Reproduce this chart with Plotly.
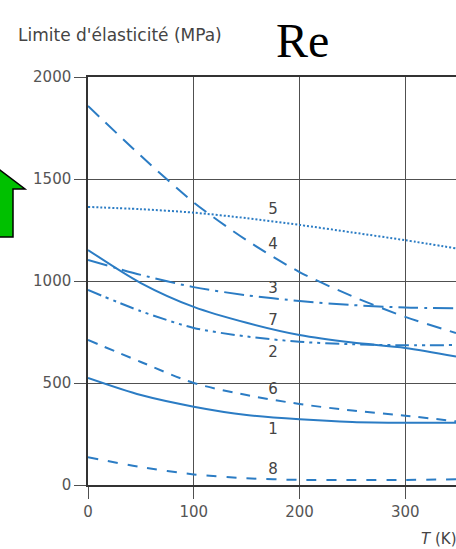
import plotly.graph_objects as go

# ---- data ----
T = [0, 50, 100, 150, 200, 250, 300, 348]
curve_1 = [525, 441, 384, 343, 322, 309, 305, 305]
curve_2 = [956, 852, 770, 728, 702, 690, 685, 686]
curve_3 = [1103, 1030, 970, 930, 902, 882, 870, 866]
curve_4 = [1858, 1614, 1385, 1200, 1044, 925, 824, 745]
curve_5 = [1363, 1352, 1335, 1308, 1275, 1238, 1200, 1160]
curve_6 = [711, 603, 500, 441, 397, 365, 340, 312]
curve_7 = [1152, 990, 873, 795, 735, 698, 672, 630]
curve_8 = [136, 88, 52, 33, 25, 24, 25, 28]

labels = ["5", "4", "3", "7", "2", "6", "1", "8"]
label_T = 175
label_y = [1348, 1173, 961, 805, 647, 466, 270, 70]

x_ticks = [0, 100, 200, 300]
y_ticks = [0, 500, 1000, 1500, 2000]

# ---- layout geometry ----
W, H = 456, 549
L, R, TOP, B = 88, 0, 77, 64
PW, PH = W - L - R, H - TOP - B


def px(xp):
    return (xp - L) / PW


def py(yp):
    return (H - B - yp) / PH


BLUE = "#2b7cc4"
GRID = "#505050"

series = [
    (curve_1, "solid"),
    (curve_2, "14px,5px,3px,5px,3px,5px"),
    (curve_3, "20px,6px,3px,6px"),
    (curve_4, "15px,9px"),
    (curve_5, "2px,2px"),
    (curve_6, "10px,8px"),
    (curve_7, "solid"),
    (curve_8, "10px,10px"),
]

fig = go.Figure()
for vals, dash in series:
    fig.add_trace(go.Scatter(
        x=T, y=vals, mode="lines",
        line=dict(color=BLUE, width=2, dash=dash, shape="spline", smoothing=0.8),
        showlegend=False, hoverinfo="skip",
    ))

fig.add_trace(go.Scatter(
    x=[label_T] * len(labels), y=label_y, mode="text", text=labels,
    textfont=dict(family="DejaVu Sans", size=15, color="#444444"),
    showlegend=False, hoverinfo="skip",
))

annotations = [
    dict(text="Limite d'élasticité (MPa)", xref="paper", yref="paper",
         x=px(16), y=py(35), xanchor="left", yanchor="middle", showarrow=False,
         font=dict(family="DejaVu Sans", size=17, color="#444444")),
    dict(text="Re", xref="paper", yref="paper",
         x=px(302), y=py(40), xanchor="center", yanchor="middle", showarrow=False,
         font=dict(family="Liberation Serif", size=48, color="#000000")),
    dict(text="<i>T</i> (K)", xref="paper", yref="paper",
         x=px(419), y=py(539), xanchor="left", yanchor="middle", showarrow=False,
         font=dict(family="DejaVu Sans", size=15, color="#444444")),
]

arrow_pts = [(0, 170), (25, 189), (13, 189), (13, 237), (-13, 237), (-13, 189), (-25, 189)]
path = "M " + " L ".join(f"{px(a):.5f},{py(b):.5f}" for a, b in arrow_pts) + " Z"
shapes = [dict(type="path", path=path, xref="paper", yref="paper",
               fillcolor="#00c000", line=dict(color="#000000", width=1.5), layer="above")]

fig.update_layout(
    width=W, height=H,
    margin=dict(l=L, r=R, t=TOP, b=B),
    paper_bgcolor="white", plot_bgcolor="white",
    annotations=annotations, shapes=shapes,
    xaxis=dict(range=[0, 348], tickvals=x_ticks, showgrid=True, gridcolor=GRID, gridwidth=1,
               showline=True, linecolor="#333333", linewidth=1.5, mirror=True,
               ticks="outside", ticklen=12, tickcolor=GRID, zeroline=False,
               tickfont=dict(family="DejaVu Sans", size=15, color="#555555")),
    yaxis=dict(range=[0, 2000], tickvals=y_ticks, showgrid=True, gridcolor=GRID, gridwidth=1,
               showline=True, linecolor="#333333", linewidth=1.5,
               ticks="outside", ticklen=12, tickcolor=GRID, zeroline=False,
               tickfont=dict(family="DejaVu Sans", size=15, color="#555555")),
)

fig.write_html("out.html")
